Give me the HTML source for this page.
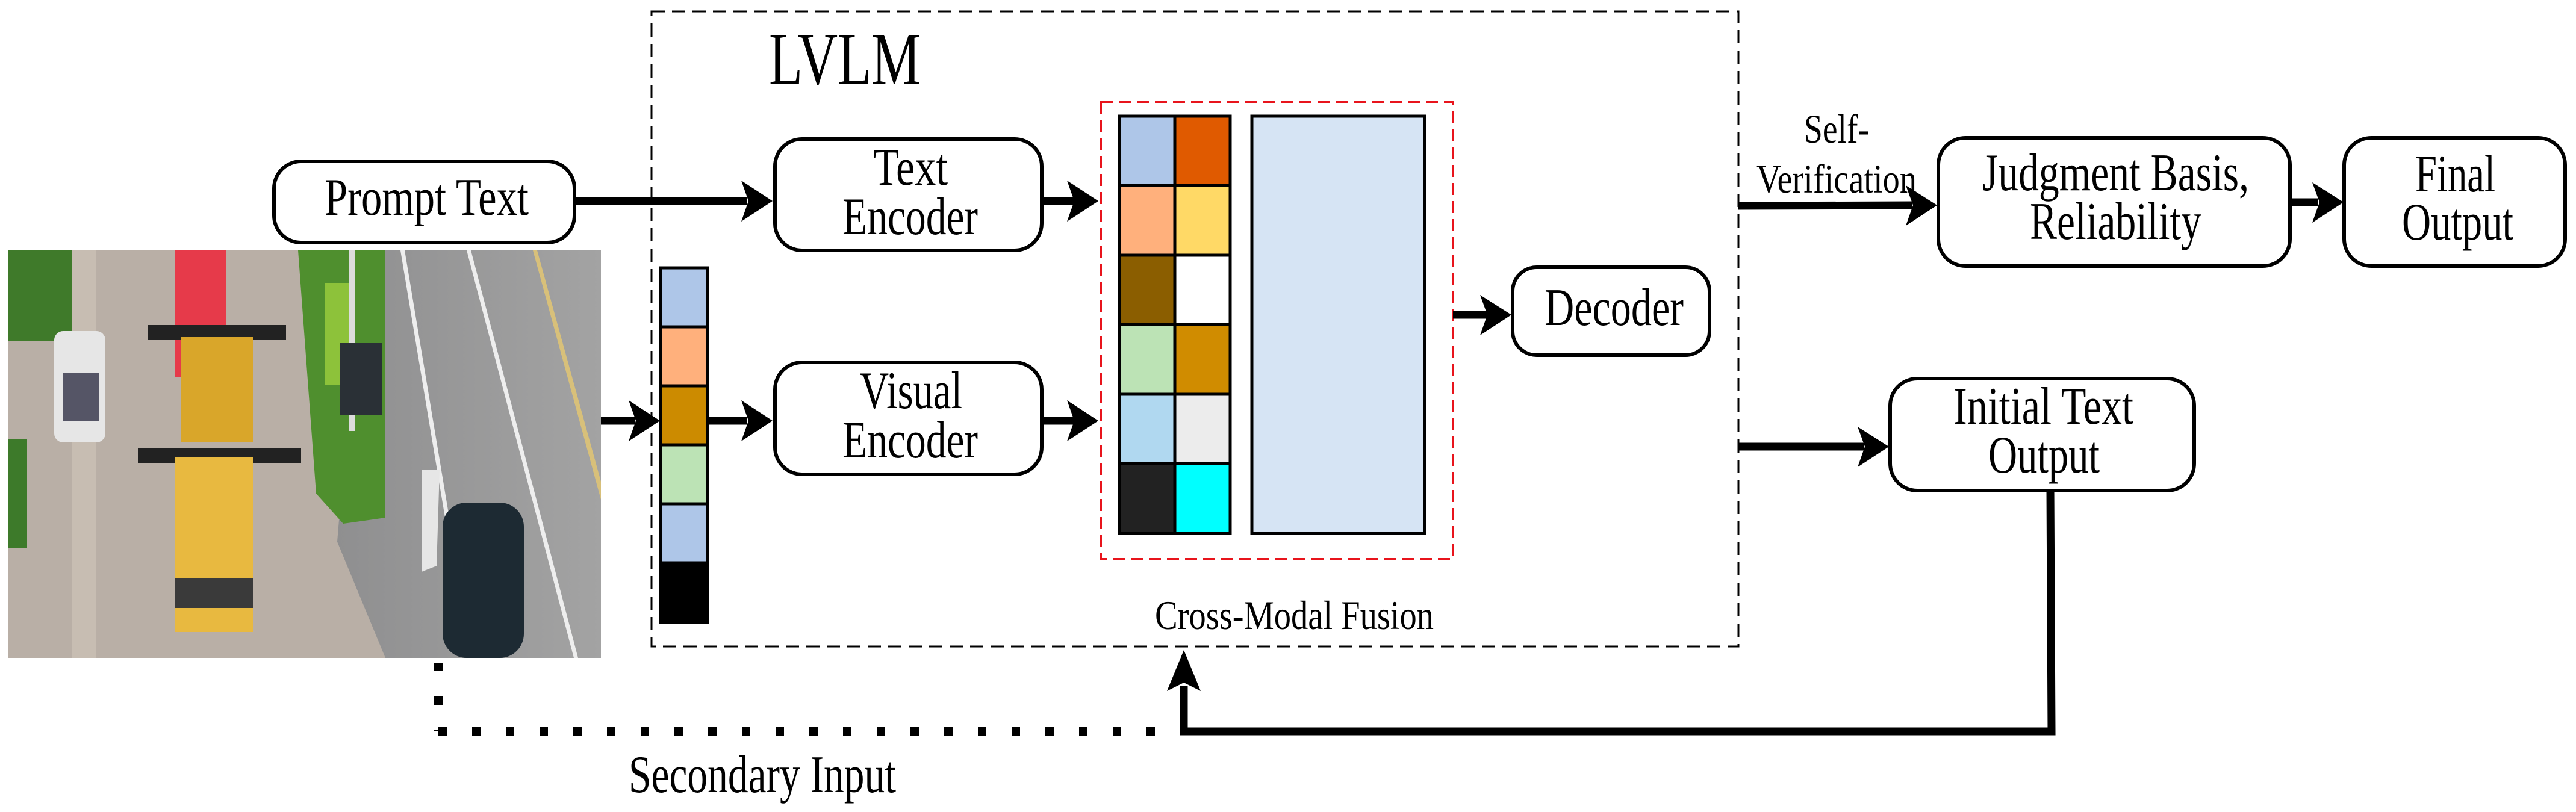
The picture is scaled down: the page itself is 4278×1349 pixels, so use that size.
<!DOCTYPE html>
<html><head><meta charset="utf-8"><style>html,body{margin:0;padding:0;background:#fff}svg{display:block}svg text{font-family:"Liberation Serif","DejaVu Serif",serif}</style></head>
<body>
<svg xmlns="http://www.w3.org/2000/svg" width="4278" height="1349" viewBox="0 0 4278 1349">
<defs>
<linearGradient id="road" x1="0" y1="0" x2="1" y2="0"><stop offset="0" stop-color="#8f8f90"/><stop offset="1" stop-color="#a3a3a3"/></linearGradient>
</defs>
<g>
<rect x="13" y="416" width="985" height="677" fill="#b9afa6"/>
<rect x="13" y="416" width="120" height="150" fill="#3f7a2a"/>
<rect x="13" y="730" width="32" height="180" fill="#3d7a2a"/>
<rect x="120" y="416" width="40" height="677" fill="#c7bdb2"/>
<polygon points="600,416 998,416 998,1093 640,1093 560,900" fill="url(#road)"/>
<polygon points="495,416 640,416 640,860 570,870 525,820" fill="#4f8f2e"/>
<rect x="540" y="470" width="50" height="170" fill="#8dc23a"/>
<rect x="580" y="416" width="10" height="300" fill="#dcdcdc"/>
<rect x="565" y="570" width="70" height="120" fill="#2a3036"/>
<polygon points="665,416 672,416 785,1093 778,1093" fill="#eee"/>
<polygon points="775,416 782,416 960,1093 953,1093" fill="#eee"/>
<polygon points="885,416 892,416 998,800 998,830" fill="#d8c07a"/>
<rect x="290" y="416" width="85" height="210" fill="#e63a4a"/>
<rect x="245" y="540" width="230" height="25" fill="#222"/>
<rect x="300" y="560" width="120" height="175" fill="#d9a62a"/>
<rect x="230" y="745" width="270" height="25" fill="#222"/>
<rect x="290" y="760" width="130" height="290" fill="#e8b940"/>
<rect x="290" y="960" width="130" height="50" fill="#3a3a3a"/>
<rect x="90" y="550" width="85" height="185" rx="15" fill="#e6e6e6"/>
<rect x="105" y="620" width="60" height="80" fill="#556"/>
<rect x="735" y="835" width="135" height="258" rx="40" fill="#1d2a33"/>
<polygon points="700,780 730,780 725,940 700,950" fill="#e6e6e6"/>
</g>
<rect x="1082" y="19" width="1805" height="1055" fill="none" stroke="#000" stroke-width="3" stroke-dasharray="22,12"/>
<text x="1277" y="140" font-size="125" textLength="252" lengthAdjust="spacingAndGlyphs">LVLM</text>
<rect x="1828" y="169" width="585" height="760" fill="none" stroke="#e8141c" stroke-width="4" stroke-dasharray="20,10"/>
<g stroke="#000" stroke-width="5">
<rect x="1859" y="193" width="92" height="115.5" fill="#aec6e8"/>
<rect x="1951" y="193" width="92" height="115.5" fill="#e05a00"/>
<rect x="1859" y="308.5" width="92" height="115.5" fill="#ffb07c"/>
<rect x="1951" y="308.5" width="92" height="115.5" fill="#ffd966"/>
<rect x="1859" y="424" width="92" height="115.5" fill="#8b5e00"/>
<rect x="1951" y="424" width="92" height="115.5" fill="#ffffff"/>
<rect x="1859" y="539.5" width="92" height="115.5" fill="#bce3b5"/>
<rect x="1951" y="539.5" width="92" height="115.5" fill="#d08c00"/>
<rect x="1859" y="655" width="92" height="115.5" fill="#b0d8f0"/>
<rect x="1951" y="655" width="92" height="115.5" fill="#ececec"/>
<rect x="1859" y="770.5" width="92" height="115.5" fill="#222222"/>
<rect x="1951" y="770.5" width="92" height="115.5" fill="#00ffff"/>
<rect x="2079" y="193" width="287" height="693" fill="#d6e4f4"/>
<rect x="1097" y="445" width="78" height="98" fill="#aec6e8"/>
<rect x="1097" y="543" width="78" height="98" fill="#ffb07c"/>
<rect x="1097" y="641" width="78" height="98" fill="#cc8b00"/>
<rect x="1097" y="739" width="78" height="98" fill="#bce3b5"/>
<rect x="1097" y="837" width="78" height="98" fill="#aec6e8"/>
<rect x="1097" y="935" width="78" height="99" fill="#000"/>
</g>
<text x="1918" y="1045" font-size="68" textLength="463" lengthAdjust="spacingAndGlyphs">Cross-Modal Fusion</text>
<g fill="#fff" stroke="#000" stroke-width="6">
<rect x="455" y="268" width="499" height="135" rx="45"/>
<rect x="1287" y="231" width="443" height="185" rx="45"/>
<rect x="1287" y="602" width="443" height="186" rx="45"/>
<rect x="2512" y="444" width="327" height="146" rx="40"/>
<rect x="3219" y="229" width="584" height="213" rx="45"/>
<rect x="3893" y="229" width="367" height="213" rx="45"/>
<rect x="3139" y="629" width="505" height="186" rx="45"/>
</g>
<g font-size="88">
<text x="539" y="357" textLength="339" lengthAdjust="spacingAndGlyphs">Prompt Text</text>
<text x="1450" y="307" textLength="124" lengthAdjust="spacingAndGlyphs">Text</text>
<text x="1399" y="389" textLength="225" lengthAdjust="spacingAndGlyphs">Encoder</text>
<text x="1428" y="678" textLength="170" lengthAdjust="spacingAndGlyphs">Visual</text>
<text x="1399" y="760" textLength="225" lengthAdjust="spacingAndGlyphs">Encoder</text>
<text x="2565" y="540" textLength="231" lengthAdjust="spacingAndGlyphs">Decoder</text>
<text x="3292" y="316" textLength="443" lengthAdjust="spacingAndGlyphs">Judgment Basis,</text>
<text x="3371" y="397" textLength="285" lengthAdjust="spacingAndGlyphs">Reliability</text>
<text x="4011" y="318" textLength="133" lengthAdjust="spacingAndGlyphs">Final</text>
<text x="3989" y="398" textLength="185" lengthAdjust="spacingAndGlyphs">Output</text>
<text x="3244" y="704" textLength="299" lengthAdjust="spacingAndGlyphs">Initial Text</text>
<text x="3302" y="785" textLength="185" lengthAdjust="spacingAndGlyphs">Output</text>
<text x="1044" y="1316" textLength="444" lengthAdjust="spacingAndGlyphs">Secondary Input</text>
</g>
<g font-size="68">
<text x="2996" y="237" textLength="108" lengthAdjust="spacingAndGlyphs">Self-</text>
<text x="2917" y="320" textLength="266" lengthAdjust="spacingAndGlyphs">Verification</text>
</g>
<g stroke="#000" stroke-width="13" fill="none">
<line x1="954" y1="334" x2="1240" y2="334"/>
<line x1="1730" y1="334" x2="1785" y2="334"/>
<line x1="998" y1="699" x2="1055" y2="699"/>
<line x1="1175" y1="699" x2="1240" y2="699"/>
<line x1="1730" y1="699" x2="1785" y2="699"/>
<line x1="2413" y1="523" x2="2470" y2="523"/>
<line x1="2887" y1="342" x2="3175" y2="341"/>
<line x1="3803" y1="336" x2="3850" y2="336"/>
<line x1="2887" y1="742" x2="3095" y2="742"/>
<polyline points="3405,815 3407,1215 1966,1215 1966,1140"/>
</g>
<g fill="#000">
<polygon points="1283,334 1231,300 1243,334 1231,368"/>
<polygon points="1824,334 1772,300 1784,334 1772,368"/>
<polygon points="1096,699 1044,665 1056,699 1044,733"/>
<polygon points="1283,699 1231,665 1243,699 1231,733"/>
<polygon points="1824,699 1772,665 1784,699 1772,733"/>
<polygon points="2510,523 2458,490 2470,523 2458,557"/>
<polygon points="3217,341 3165,308 3177,341 3165,375"/>
<polygon points="3892,336 3840,303 3852,336 3840,370"/>
<polygon points="3137,742 3085,709 3097,742 3085,776"/>
<polygon points="1966,1080 1938,1148 1966,1134 1994,1148"/>
</g>
<g stroke="#000" stroke-width="14" stroke-dasharray="14,42" fill="none">
<line x1="728" y1="1101" x2="728" y2="1215"/>
<line x1="728" y1="1215" x2="1930" y2="1215"/>
</g>
</svg>
</body></html>
